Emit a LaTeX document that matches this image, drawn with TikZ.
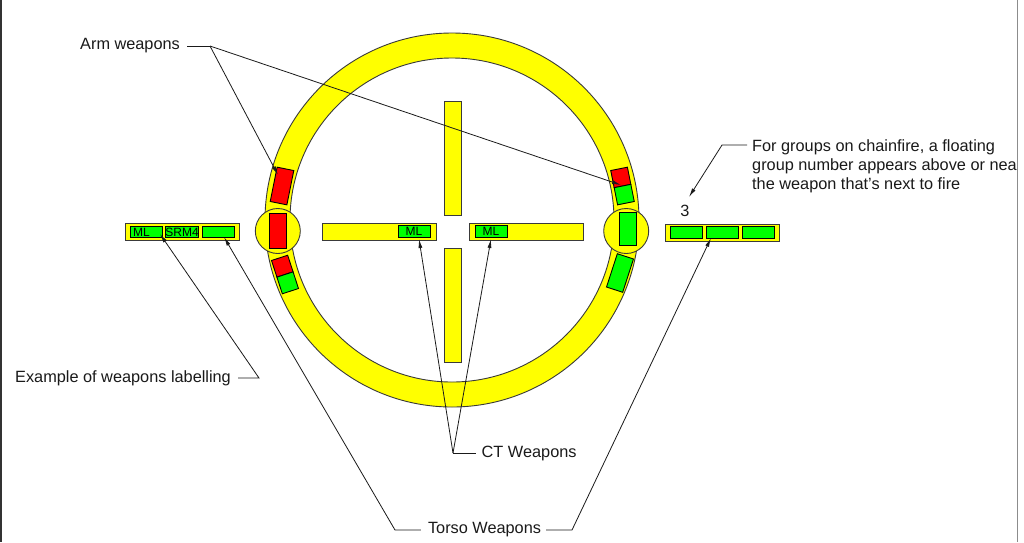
\documentclass[tikz,border=0pt]{standalone}
\usepackage{fontspec}
\setmainfont{Liberation Sans}
\usetikzlibrary{arrows.meta,calc}
\definecolor{wyellow}{HTML}{FFFF00}
\definecolor{wred}{HTML}{FF0000}
\definecolor{wgreen}{HTML}{00FF00}
\definecolor{outl}{HTML}{3A3A3A}
\definecolor{txt}{HTML}{1A1A1A}
\begin{document}
\begin{tikzpicture}[x=1pt,y=-1pt,
  ring/.style={draw=outl, line width=0.9pt, fill=wyellow},
  bar/.style={draw=outl, line width=0.9pt, fill=wyellow, inner sep=0pt},
  hbar/.style={bar, minimum width=114pt, minimum height=17pt},
  vbar/.style={bar, minimum width=17pt, minimum height=114pt},
  slot/.style={draw=black, line width=0.8pt, fill=wgreen, minimum width=32pt, minimum height=11.5pt, inner sep=0pt, text=black, font=\fontsize{12}{12}\selectfont},
  armw/.style={draw=black, line width=0.9pt, minimum width=17pt, inner sep=0pt},
  lbl/.style={inner sep=0pt, text=txt, font=\fontsize{16.3}{19.4}\selectfont},
  conn/.style={draw=txt, line width=0.8pt},
  tip/.style={-{Latex[length=9pt,width=4pt]}},
]
\useasboundingbox[fill=white] (0,0) rectangle (1024,542);

% borders
\draw[line width=1.5pt, draw=black!80] (0.75,0) -- (0.75,542);
\draw[line width=1.2pt, draw=black!45] (1017.5,0) -- (1017.5,542);

% ring
\coordinate (ringc) at (452,220);
\filldraw[ring, even odd rule] (ringc) circle[radius=187pt] (ringc) circle[radius=162pt];

% shoulder circles
\node[ring, circle, minimum size=45pt, inner sep=0pt] (lsh) at (277.8,231) {};
\node[ring, circle, minimum size=45pt, inner sep=0pt] (rsh) at (626.2,231) {};

% left arm weapons
\node[armw, fill=wred, minimum height=35pt, rotate=-11.4] (la1) at (282,186) {};
\node[armw, fill=wred, minimum height=35pt] (la2) at (277.8,231) {};
\begin{scope}[shift={(285,274.5)}, rotate=18, transform shape]
  \node[armw, fill=wred, minimum height=17.5pt] (la3) at (0,-8.75) {};
  \node[armw, fill=wgreen, minimum height=17.5pt] (la4) at (0,8.75) {};
\end{scope}

% right arm weapons
\begin{scope}[shift={(622.5,186)}, rotate=11.3, transform shape]
  \node[armw, fill=wred, minimum height=17.5pt] (ra1) at (0,-8.75) {};
  \node[armw, fill=wgreen, minimum height=17.5pt] (ra2) at (0,8.75) {};
\end{scope}
\node[armw, fill=wgreen, minimum height=33pt] (ra3) at (627.5,229) {};
\node[armw, fill=wgreen, minimum height=35pt, rotate=-18] (ra4) at (620,273) {};

% torso bars
\node[hbar] (ltorso) at (182.5,232) {};
\node[slot] (lt1) at (146.2,232) {\makebox[26pt][l]{ML}};
\node[slot] (lt2) at (182.1,232) {SRM4};
\node[slot] (lt3) at (218,232) {};
\node[hbar] (rtorso) at (722.3,232.5) {};
\node[slot] (rt1) at (686.7,232.5) {};
\node[slot] (rt2) at (722.5,232.5) {};
\node[slot] (rt3) at (758.5,232.5) {};

% centre torso
\node[hbar] (ctl) at (379,231.5) {};
\node[slot] (ctml1) at (414,231.6) {ML};
\node[hbar] (ctr) at (526,231.5) {};
\node[slot] (ctml2) at (491,231.6) {ML};
\node[vbar] (ctt) at (452.5,158) {};
\node[vbar] (ctb) at (452.5,305) {};

% labels
\node[lbl, anchor=west] (armlbl) at (80,46) {Arm weapons};
\node[lbl, anchor=west] (exlbl) at (15,378) {Example of weapons labelling};
\node[lbl] (torsolbl) at (484.5,530) {Torso Weapons};
\node[lbl, anchor=west] (ctlbl) at (481.5,453) {CT Weapons};
\node[lbl] (grp3) at (685,211) {3};
\node[lbl, anchor=north west, align=left] (chainlbl) at (752,139)
  {For groups on chainfire, a floating\\group number appears above or nea\\the weapon that's next to fire};

% junctions and tips
\coordinate (armj) at (210,46);
\coordinate (tipLA) at (278,175);
\coordinate (tipRA) at (621,185);
\coordinate (exj) at (259,378);
\coordinate (tipEx) at (160,234);
\coordinate (tj1) at (395,530);
\coordinate (tipT1) at (224,237);
\coordinate (tj2) at (572,530);
\coordinate (tipT2) at (711,238);
\coordinate (ctj) at (453,453);
\coordinate (tipC1) at (419,239);
\coordinate (tipC2) at (491,239);
\coordinate (chj) at (722,145);
\coordinate (tip3) at (689,197);

% connectors
\draw[conn, shorten <=7pt] (armlbl.east) -- (armj);
\draw[conn, tip] (armj) -- (tipLA);
\draw[conn, tip] (armj) -- (tipRA);
\draw[conn, tip, shorten <=7pt] (exlbl.east) -- (exj) -- (tipEx);
\draw[conn, tip, shorten <=7pt] (torsolbl.west) -- (tj1) -- (tipT1);
\draw[conn, tip, shorten <=5pt] (torsolbl.east) -- (tj2) -- (tipT2);
\draw[conn, shorten <=6pt] (ctlbl.west) -- (ctj);
\draw[conn, tip] (ctj) -- (tipC1);
\draw[conn, tip] (ctj) -- (tipC2);
\draw[conn, tip] ([xshift=-5pt,yshift=-6pt]chainlbl.north west) -- (chj) -- (tip3);
\end{tikzpicture}
\end{document}
